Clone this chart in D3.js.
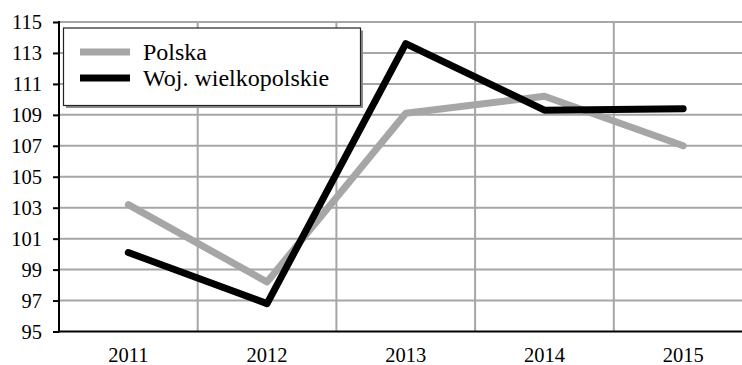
<!DOCTYPE html>
<html><head><meta charset="utf-8">
<script src="https://cdn.jsdelivr.net/npm/d3@7"></script>
<style>body{margin:0;background:#fff;overflow:hidden}svg{display:block}</style>
</head><body>
<svg id="c" width="742" height="365"></svg>
<script>
const years = ["2011","2012","2013","2014","2015"];
const polska = [103.2, 98.2, 109.1, 110.2, 107.0];
const wielkopolskie = [100.1, 96.8, 113.6, 109.3, 109.4];
const yTicks = [95,97,99,101,103,105,107,109,111,113,115];
const seriesNames = ["Polska", "Woj. wielkopolskie"];
const seriesColors = ["#a6a6a6", "#000000"];

const FONT = '"Liberation Serif", "Times New Roman", serif';
const svg = d3.select("#c");
const mLeft = 59, mTop = 22, mBottom = 331.5, bandW = 138.7;
const x = d3.scaleBand().domain(years).range([mLeft, mLeft + bandW*years.length]).paddingInner(0).paddingOuter(0);
const y = d3.scaleLinear().domain([95,115]).range([mBottom, mTop]);

// horizontal gridlines
svg.append("g").selectAll("line").data(yTicks.filter(d=>d>95)).join("line")
  .attr("x1", mLeft).attr("x2", 742).attr("y1", d=>y(d)).attr("y2", d=>y(d))
  .attr("stroke", "#a6a6a6").attr("stroke-width", 2);
// vertical gridlines
svg.append("g").selectAll("line").data(years.slice(1)).join("line")
  .attr("x1", d=>x(d)).attr("x2", d=>x(d)).attr("y1", mTop).attr("y2", mBottom)
  .attr("stroke", "#a6a6a6").attr("stroke-width", 2);

// y axis
const yAxis = svg.append("g").attr("transform", `translate(${mLeft},0)`)
  .call(d3.axisLeft(y).tickValues(yTicks).tickSize(6).tickPadding(11).tickFormat(d3.format("d")));
yAxis.attr("font-family", null).attr("font-size", null);
yAxis.select(".domain").remove();
yAxis.selectAll(".tick line").attr("stroke", "#000").attr("stroke-width", 2);
yAxis.selectAll("text").style("font-family", FONT).style("font-size", "20.5px").attr("fill", "#000");
svg.append("line").attr("x1", mLeft).attr("x2", mLeft).attr("y1", mTop-1).attr("y2", mBottom+1)
  .attr("stroke", "#000").attr("stroke-width", 2);

// x axis
const xAxis = svg.append("g").attr("transform", `translate(0,${mBottom})`)
  .call(d3.axisBottom(x).tickSize(0).tickPadding(16));
xAxis.attr("font-family", null).attr("font-size", null);
xAxis.select(".domain").remove();
xAxis.selectAll("text").style("font-family", FONT).style("font-size", "20.5px").attr("fill", "#000");
svg.append("line").attr("x1", mLeft-1).attr("x2", 742).attr("y1", mBottom).attr("y2", mBottom)
  .attr("stroke", "#000").attr("stroke-width", 2);

// lines
const line = d3.line().x((d,i)=>x(years[i]) + x.bandwidth()/2).y(d=>y(d));
[polska, wielkopolskie].forEach((s,i)=>{
  svg.append("path").datum(s).attr("d", line).attr("fill","none")
    .attr("stroke", seriesColors[i]).attr("stroke-width", 7)
    .attr("stroke-linecap","round").attr("stroke-linejoin","round");
});

// legend
const lg = svg.append("g");
lg.append("rect").attr("x", 66).attr("y", 30.5).attr("width", 297).attr("height", 77.5).attr("fill", "#8c8c8c");
lg.append("rect").attr("x", 63.5).attr("y", 28).attr("width", 297).attr("height", 77.5)
  .attr("fill", "#fff").attr("stroke", "#222").attr("stroke-width", 1.2);
const ly = [52, 78];
seriesNames.forEach((n,i)=>{
  lg.append("line").attr("x1", 80).attr("x2", 130).attr("y1", ly[i]).attr("y2", ly[i])
    .attr("stroke", seriesColors[i]).attr("stroke-width", 7);
  lg.append("text").attr("x", 143).attr("y", ly[i] + 8)
    .style("font-family", FONT).style("font-size", "24px").attr("fill", "#000").text(n);
});
</script>
</body></html>
